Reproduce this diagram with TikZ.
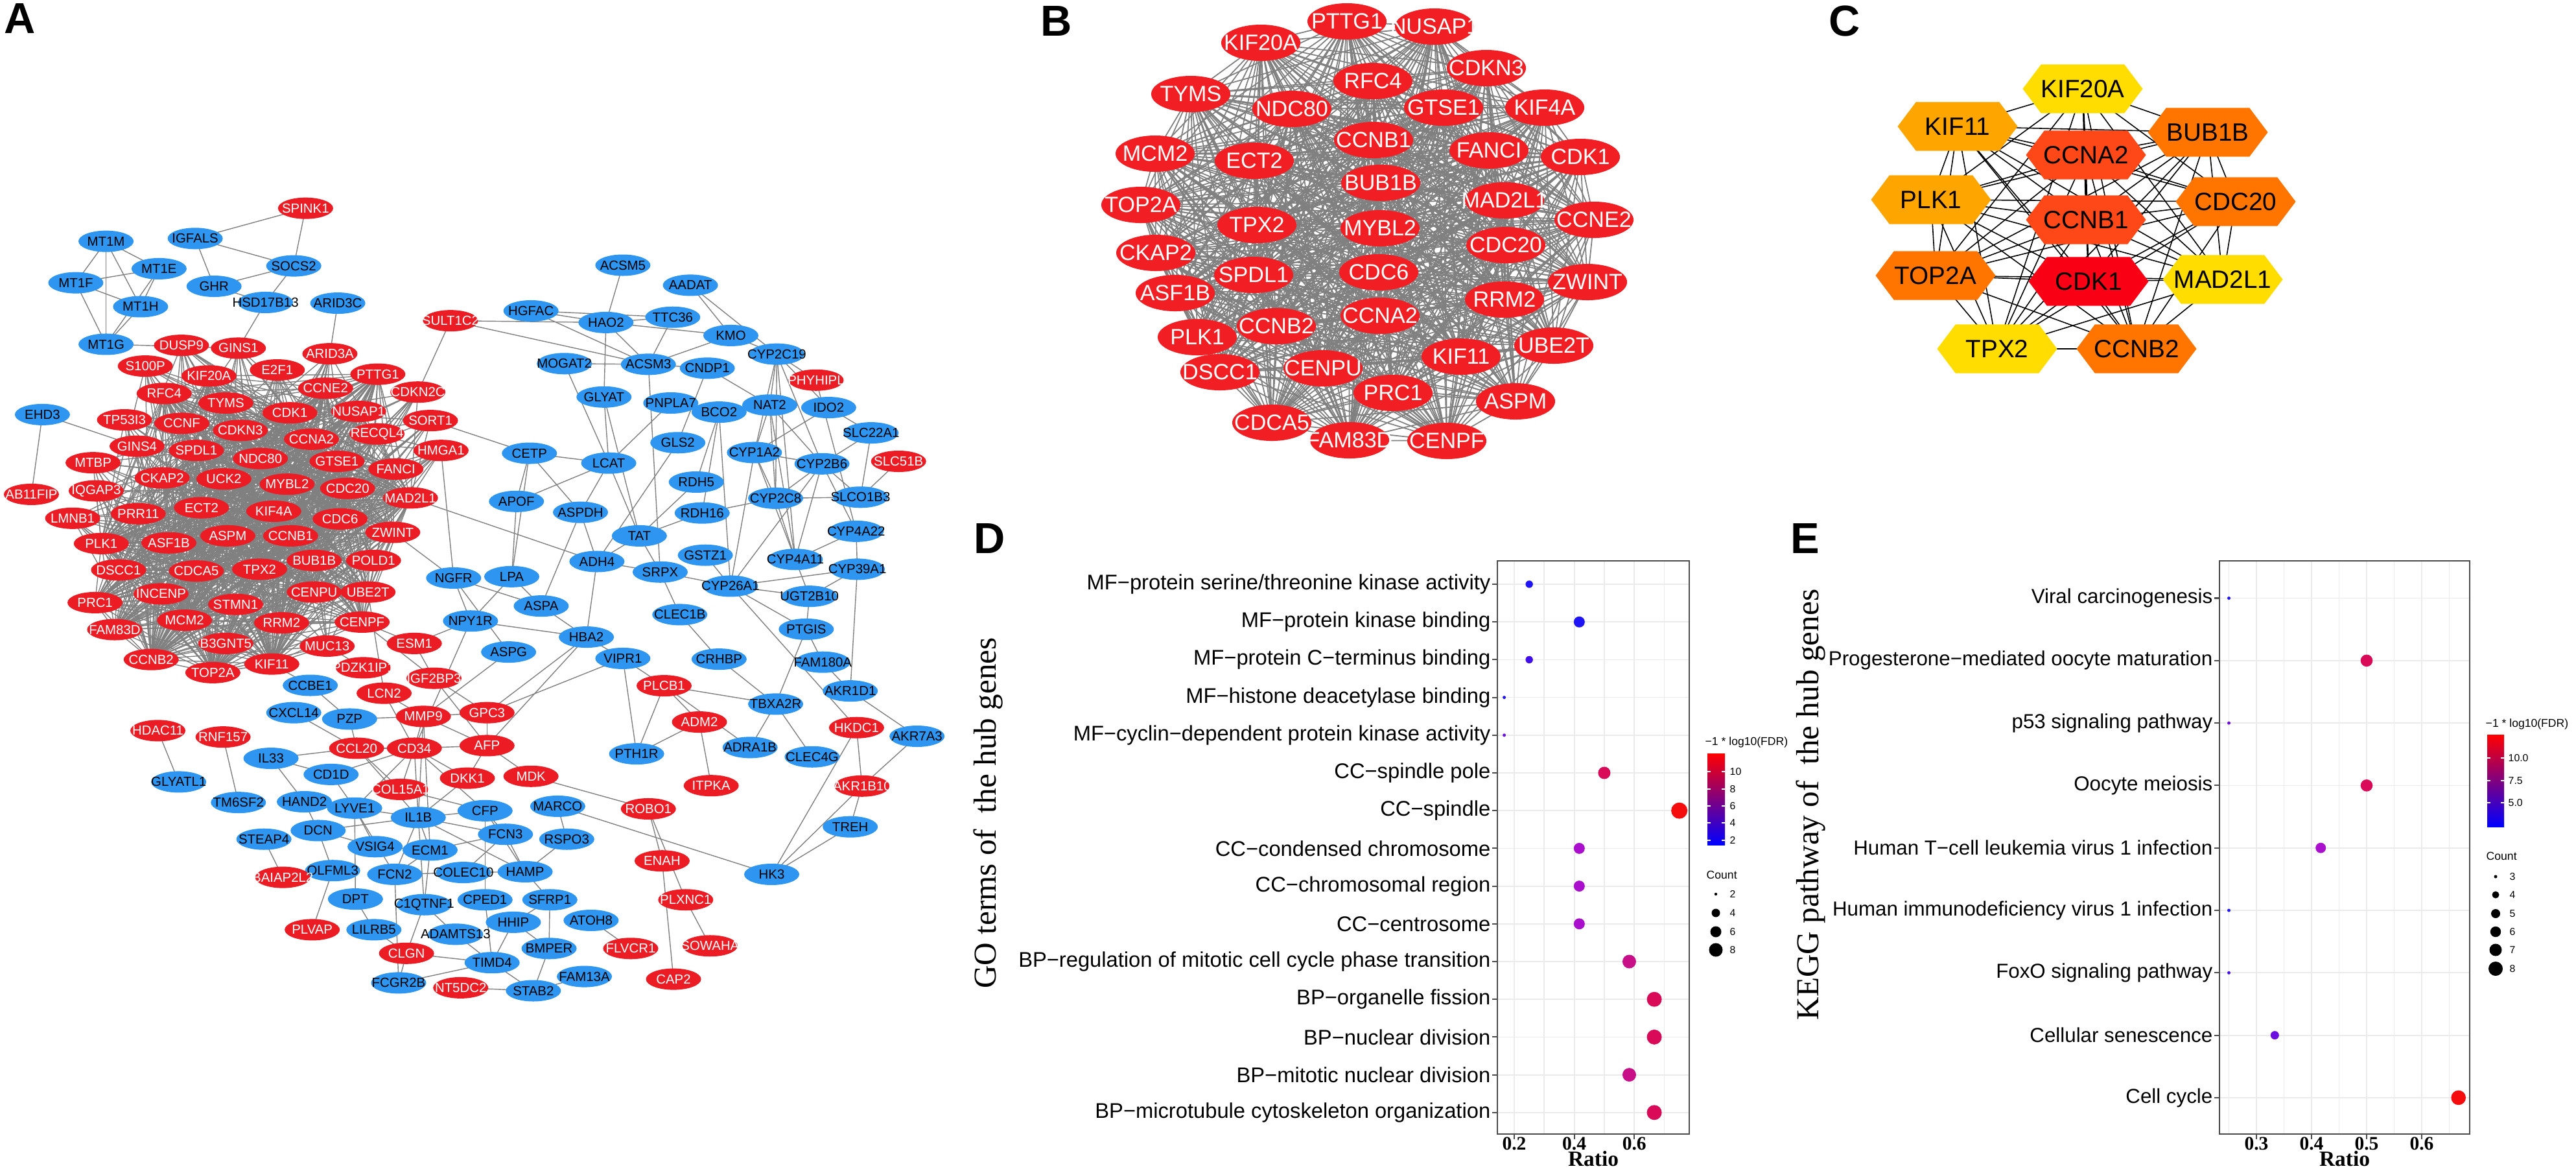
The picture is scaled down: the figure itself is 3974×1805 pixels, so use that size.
\documentclass[tikz,border=0pt]{standalone}
\usepackage{fontspec}
\setmainfont{Liberation Sans}
\newfontfamily\timesfont{Liberation Serif}
\usetikzlibrary{shapes.geometric,shapes.symbols}
\pgfdeclarelayer{edges}
\pgfsetlayers{edges,main}

\definecolor{nodered}{RGB}{236,28,36}
\definecolor{nodeblue}{RGB}{46,150,240}
\definecolor{hubred}{RGB}{241,30,36}
\definecolor{edgegray}{RGB}{128,128,128}
\definecolor{cyel}{RGB}{255,221,0}
\definecolor{corg}{RGB}{255,165,0}
\definecolor{cdor}{RGB}{255,117,0}
\definecolor{crorg}{RGB}{255,72,24}
\definecolor{cred}{RGB}{250,0,20}
\definecolor{gridgray}{RGB}{235,235,235}
\definecolor{fdr1}{RGB}{30,20,245}
\definecolor{fdr2}{RGB}{65,15,235}
\definecolor{fdr3}{RGB}{110,15,225}
\definecolor{fdr4}{RGB}{170,15,205}
\definecolor{fdr5}{RGB}{200,15,135}
\definecolor{fdr6}{RGB}{217,10,88}
\definecolor{fdr7}{RGB}{245,12,12}

\newcommand{\gene}[1]{\makebox[0pt]{#1}}
\def\hublist{KIF20A,PTTG1,NUSAP1,CDKN3,RFC4,NDC80,GTSE1,KIF4A,CCNB1,FANCI,CDK1,ECT2,BUB1B,MAD2L1,CCNE2,TPX2,MYBL2,CDC20,SPDL1,CDC6,ZWINT,RRM2,CCNA2,CCNB2,UBE2T,KIF11,CENPU,PRC1,ASPM,CDCA5,FAM83D,CENPF,TYMS,MCM2,TOP2A,CKAP2,ASF1B,PLK1,DSCC1}
\def\toplist{KIF20A,KIF11,BUB1B,CCNA2,PLK1,CDC20,CCNB1,TOP2A,CDK1,MAD2L1,TPX2,CCNB2}

\tikzset{
  anode/.style={ellipse, minimum width=0.85cm, minimum height=0.33cm, inner sep=0pt, font=\fontsize{5.8}{6}\selectfont},
  ared/.style={anode, fill=nodered, text=white},
  ablue/.style={anode, fill=nodeblue, text=black},
  bnode/.style={ellipse, minimum width=1.22cm, minimum height=0.56cm, inner sep=0pt, fill=hubred, text=white, font=\fontsize{9.7}{10}\selectfont},
  cnode/.style={signal, signal to=west and east, signal pointer angle=106, minimum width=1.85cm, minimum height=0.75cm, inner sep=0pt, font=\fontsize{11}{12}\selectfont},
  aedge/.style={edgegray, line width=0.4pt},
  bedge/.style={edgegray, line width=0.5pt},
  cedge/.style={black, line width=0.45pt},
  panel/.style={inner sep=0pt, font=\fontsize{19}{20}\selectfont\bfseries},
  gridline/.style={gridgray, line width=0.5pt},
  axisline/.style={black!70, line width=0.6pt},
  golab/.style={anchor=east, inner sep=0pt, font=\fontsize{9.3}{10}\selectfont},
  kegglab/.style={anchor=east, inner sep=0pt, font=\fontsize{8.9}{10}\selectfont},
  ticklab/.style={inner sep=0pt, font={\timesfont\bfseries\fontsize{8.4}{9}\selectfont}},
  axtitle/.style={inner sep=0pt, font={\timesfont\bfseries\fontsize{9.5}{10}\selectfont}},
  ytitle/.style={rotate=90, inner sep=0pt, font={\timesfont\fontsize{14}{15}\selectfont}},
  legtitle/.style={anchor=west, inner sep=0pt, font=\fontsize{5}{6}\selectfont},
  leglab/.style={anchor=west, inner sep=0pt, font=\fontsize{4.5}{5}\selectfont},
}

\begin{document}
\begin{tikzpicture}[x=0.01cm, y=-0.01cm]
\useasboundingbox (0,0) rectangle (3974,1805);

% panel letters
\node[panel] (lab-A) at (31,29) {A};
\node[panel] (lab-B) at (1630,33) {B};
\node[panel] (lab-C) at (2846,32) {C};
\node[panel] (lab-D) at (1527,830) {D};
\node[panel] (lab-E) at (2785,830) {E};

%%% A: whole network
% upper left part
\begin{scope}[shift={(0,100)}, xscale=0.6059, yscale=0.5421]
  \foreach \g/\x/\y in {MT1M/270/502, MT1E/405/580, MT1F/193/620, MT1H/358/688, MT1G/270/795,
      IGFALS/497/494, SOCS2/748/572, GHR/545/630, HSD17B13/676/676, ARID3C/860/678,
      EHD3/108/995, HGFAC/1352/700, MOGAT2/1437/850, CETP/1348/1105, APOF/1315/1242,
      ASPDH/1478/1273, NGFR/1155/1460, LPA/1303/1456}
    \node[ablue] (a-\g) at (\x,\y) {\gene{\g}};
  \foreach \g/\x/\y in {SPINK1/778/408, SULT1C2/1147/728, DUSP9/462/798, GINS1/607/806,
      ARID3A/840/822, S100P/370/857, KIF20A/532/885, E2F1/706/868, PTTG1/962/880,
      CCNE2/829/920, CDKN2C/1064/931, RFC4/418/935, TYMS/575/962, CDK1/738/990,
      NUSAP1/913/986, SORT1/1096/1012, TP53I3/317/1010, CCNF/463/1020, CDKN3/612/1040,
      CCNA2/793/1065, RECQL4/960/1050, HMGA1/1123/1097, GINS4/349/1085, SPDL1/500/1097,
      NDC80/663/1120, GTSE1/858/1128, FANCI/1008/1150, MTBP/237/1132, CKAP2/413/1175,
      UCK2/570/1178, MYBL2/731/1193, CDC20/885/1205, MAD2L1/1045/1232, AB11FIP/80/1222,
      IQGAP3/245/1212, LMNB1/185/1290, PRR11/352/1277, ECT2/513/1260, KIF4A/697/1270,
      CDC6/866/1292, ZWINT/1000/1330, PLK1/258/1362, ASF1B/430/1360, ASPM/580/1340,
      CCNB1/740/1340, BUB1B/800/1410, POLD1/951/1410, DSCC1/302/1437, CDCA5/500/1440,
      TPX2/661/1435, CENPU/800/1500, UBE2T/937/1500, INCENP/410/1505, STMN1/600/1535,
      PRC1/242/1530}
    \node[ared] (a-\g) at (\x,\y) {\gene{\g}};
\end{scope}
% upper right part
\begin{scope}[shift={(850,100)}, xscale=0.6059, yscale=0.5421]
  \foreach \g/\x/\y in {ACSM5/183/570, AADAT/355/627, HAO2/140/733, TTC36/310/718, KMO/458/770,
      CYP2C19/575/823, ACSM3/248/852, CNDP1/398/863, GLYAT/135/945, PNPLA7/305/962,
      BCO2/428/988, NAT2/557/968, IDO2/707/975, SLC22A1/815/1047, GLS2/323/1075,
      CYP1A2/518/1103, CYP2B6/690/1135, LCAT/147/1133, RDH5/370/1187, CYP2C8/572/1233,
      SLCO1B3/788/1230, RDH16/385/1275, TAT/225/1340, CYP4A22/777/1327, GSTZ1/393/1395,
      ADH4/117/1413, CYP4A11/622/1407, CYP39A1/780/1435, SRPX/278/1443, CYP26A1/457/1483,
      UGT2B10/658/1512}
    \node[ablue] (a-\g) at (\x,\y) {\gene{\g}};
  \foreach \g/\x/\y in {PHYHIPL/675/897, SLC51B/885/1128}
    \node[ared] (a-\g) at (\x,\y) {\gene{\g}};
\end{scope}
% lower left part
\begin{scope}[shift={(0,900)}, xscale=0.6059, yscale=0.5772]
  \foreach \g/\x/\y in {ASPA/1378/60, NPY1R/1198/100, HBA2/1493/143, ASPG/1295/183,
      CCBE1/790/272, CXCL14/748/345, PZP/890/362, IL33/690/467, CD1D/843/510,
      GLYATL1/455/530, TM6SF2/607/585, HAND2/775/583, LYVE1/903/600, IL1B/1065/625,
      CFP/1235/607, MARCO/1420/595, STEAP4/672/683, DCN/810/660, FCN3/1287/670,
      RSPO3/1443/683, VSIG4/955/703, ECM1/1095/712, OLFML3/847/767, FCN2/1005/777,
      COLEC10/1180/772, HAMP/1337/770, DPT/905/843, C1QTNF1/1080/858, CPED1/1235/845,
      SFRP1/1400/845, HHIP/1307/905, ATOH8/1505/900, LILRB5/952/925, ADAMTS13/1160/937,
      BMPER/1398/975, TIMD4/1253/1013, FCGR2B/1015/1067, STAB2/1358/1088, FAM13A/1488/1050}
    \node[ablue] (a-\g) at (\x,\y) {\gene{\g}};
  \foreach \g/\x/\y in {FAM83D/292/123, MCM2/470/98, RRM2/717/105, CENPF/922/103,
      B3GNT5/575/160, MUC13/833/167, ESM1/1055/160, CCNB2/385/203, TOP2A/542/238,
      KIF11/692/215, PDZK1IP1/925/225, IGF2BP3/1105/253, LCN2/978/293, MMP9/1078/355,
      GPC3/1240/345, HDAC11/402/393, RNF157/568/410, CCL20/908/440, CD34/1055/440,
      AFP/1240/433, DKK1/1190/520, MDK/1352/515, COL15A1/1020/550, BAIAP2L2/720/785,
      PLVAP/795/925, CLGN/1035/988, NT5DC2/1173/1080}
    \node[ared] (a-\g) at (\x,\y) {\gene{\g}};
\end{scope}
% lower right part
\begin{scope}[shift={(850,900)}, xscale=0.6059, yscale=0.5772]
  \foreach \g/\x/\y in {CLEC1B/328/83, VIPR1/183/200, CRHBP/428/202, PTGIS/650/122,
      FAM180A/692/210, AKR1D1/762/287, TBXA2R/572/322, ADRA1B/507/438, CLEC4G/665/463,
      PTH1R/218/455, AKR7A3/932/408, TREH/762/650, HK3/562/777}
    \node[ablue] (a-\g) at (\x,\y) {\gene{\g}};
  \foreach \g/\x/\y in {PLCB1/288/273, ADM2/378/370, HKDC1/778/385, ITPKA/408/540,
      AKR1B10/792/541, ROBO1/248/602, ENAH/283/741, PLXNC1/343/845, SOWAHA/405/968,
      FLVCR1/203/975, CAP2/312/1057}
    \node[ared] (a-\g) at (\x,\y) {\gene{\g}};
\end{scope}

%%% B: hub module
\foreach \g/\x/\y in {KIF20A/1945/66, PTTG1/2078/33, NUSAP1/2213/41, CDKN3/2293/105,
    RFC4/2118/125, NDC80/1993/168, GTSE1/2227/166, KIF4A/2383/166, CCNB1/2119/216,
    FANCI/2297/232, CDK1/2438/242, ECT2/1935/248, BUB1B/2130/282, MAD2L1/2321/309,
    CCNE2/2459/339, TPX2/1939/347, MYBL2/2129/352, CDC20/2323/378, SPDL1/1934/424,
    CDC6/2127/420, ZWINT/2449/435, RRM2/2321/462, CCNA2/2129/487, CCNB2/1969/503,
    UBE2T/2397/533, KIF11/2254/550, CENPU/2041/568, PRC1/2149/606, ASPM/2338/619,
    CDCA5/1962/652, FAM83D/2082/679, CENPF/2232/680, TYMS/1837/145, MCM2/1782/237,
    TOP2A/1760/316, CKAP2/1783/390, ASF1B/1813/452, PLK1/1847/520, DSCC1/1882/574}
  \node[bnode] (b-\g) at (\x,\y) {\gene{\g}};

%%% C: top 12 hub genes
\foreach \g/\x/\y/\c in {KIF20A/3213/137/cyel, KIF11/3020/195/corg, BUB1B/3406/204/cdor,
    CCNA2/3218/239/crorg, PLK1/2979/308/corg, CDC20/3449/311/cdor, CCNB1/3218/339/crorg,
    TOP2A/2986/425/cdor, CDK1/3222/434/cred, MAD2L1/3429/431/cyel, TPX2/3081/538/cyel,
    CCNB2/3296/538/cdor}
  \node[cnode, fill=\c] (c-\g) at (\x,\y) {\gene{\g}};

\begin{pgfonlayer}{edges}
  % A: dense hub cluster
  \foreach \u [count=\i] in \hublist {
    \foreach \v [count=\j] in \hublist {
      \ifnum\j>\i \draw[aedge] (a-\u.center) -- (a-\v.center); \fi
    }
  }
  \foreach \u in {DUSP9,GINS1,ARID3A,S100P,E2F1,CDKN2C,SORT1,TP53I3,CCNF,RECQL4,HMGA1,
      GINS4,MTBP,UCK2,IQGAP3,LMNB1,PRR11,POLD1,INCENP,STMN1,B3GNT5,MUC13}
    \foreach \v in {CDK1,CCNA2,CCNB1,BUB1B,TOP2A,MAD2L1,CDC20,KIF11,PLK1,TPX2,CCNB2,MCM2}
      \draw[aedge] (a-\u.center) -- (a-\v.center);
  % A: other links
  \foreach \u/\v in {SPINK1/IGFALS, SPINK1/SOCS2, IGFALS/SOCS2, IGFALS/GHR, GHR/SOCS2,
      SOCS2/HSD17B13, GHR/HSD17B13, HSD17B13/GINS1, ARID3C/ARID3A,
      MT1M/MT1F, MT1M/MT1E, MT1M/MT1H, MT1M/MT1G, MT1F/MT1E, MT1F/MT1H, MT1F/MT1G,
      MT1E/MT1H, MT1E/MT1G, MT1H/MT1G, MT1G/GINS1, EHD3/AB11FIP, EHD3/GINS4,
      SULT1C2/CDKN2C, SULT1C2/HAO2, SULT1C2/ACSM3, HGFAC/HAO2, HGFAC/TTC36, HGFAC/ACSM3,
      MOGAT2/ACSM3, MOGAT2/LCAT, SORT1/CETP, CETP/LCAT, CETP/APOF, CETP/LPA, CETP/ASPDH,
      APOF/LCAT, APOF/LPA, LCAT/ASPDH, LCAT/GLYAT, LCAT/TAT, HMGA1/NGFR, ZWINT/NGFR,
      MAD2L1/ADH4, NGFR/NPY1R, NGFR/ASPG, NGFR/ASPA, LPA/ASPA, LPA/NPY1R, ASPDH/ADH4,
      ASPA/HBA2, NPY1R/HBA2, ASPDH/ASPA,
      ACSM5/HAO2, AADAT/KMO, AADAT/CYP2C19, HAO2/TTC36, HAO2/KMO, HAO2/ACSM3, HAO2/GLYAT,
      TTC36/ACSM3, KMO/ACSM3, KMO/CYP2C19, ACSM3/CNDP1, ACSM3/SRPX, CNDP1/NAT2, CNDP1/GLS2,
      CYP2C19/PHYHIPL, CYP2C19/NAT2, CYP2C19/CYP1A2, CYP2C19/CYP2B6, CYP2C19/CYP2C8,
      CYP2C19/CYP4A11, CYP2C19/IDO2, PHYHIPL/CYP4A22, IDO2/SLC22A1, IDO2/CYP1A2,
      SLC22A1/CYP2B6, SLC22A1/SLCO1B3, SLC51B/SLCO1B3, NAT2/CYP1A2, NAT2/CYP2B6,
      NAT2/CYP2C8, NAT2/CYP4A11, BCO2/RDH5, BCO2/RDH16, BCO2/CYP26A1, PNPLA7/LCAT,
      GLS2/ADH4, CYP1A2/CYP2B6, CYP1A2/CYP2C8, CYP1A2/CYP4A11, CYP1A2/CYP26A1,
      CYP2B6/CYP2C8, CYP2B6/SLCO1B3, CYP2B6/CYP4A22, CYP2B6/CYP4A11, CYP2B6/CYP26A1,
      CYP2C8/SLCO1B3, CYP2C8/CYP4A11, CYP2C8/RDH16, CYP4A22/CYP4A11, CYP4A22/CYP39A1,
      CYP39A1/UGT2B10, CYP4A11/UGT2B10, CYP39A1/CYP26A1, CYP26A1/UGT2B10, CYP26A1/SRPX,
      CYP26A1/GSTZ1, SRPX/ADH4, SRPX/TAT, SRPX/CLEC1B, TAT/ADH4, TAT/RDH16, RDH5/TAT,
      GLYAT/TAT, ADH4/HBA2,
      CLEC1B/CRHBP, CRHBP/TBXA2R, CYP26A1/PTGIS, UGT2B10/PTGIS, PTGIS/FAM180A,
      PTGIS/TBXA2R, FAM180A/AKR1D1, CYP39A1/AKR1D1, AKR1D1/AKR7A3, CYP26A1/HKDC1,
      TBXA2R/PLCB1, TBXA2R/ADRA1B, TBXA2R/CLEC4G, VIPR1/PLCB1, VIPR1/PTH1R, HBA2/VIPR1,
      PLCB1/ADM2, PLCB1/PTH1R, PLCB1/ADRA1B, ADM2/PTH1R, ADM2/ITPKA, HKDC1/AKR1B10,
      HKDC1/HK3, AKR7A3/AKR1B10, AKR1B10/TREH, AKR1B10/HK3, TREH/HK3, ROBO1/ENAH,
      ROBO1/PLXNC1, ENAH/CAP2, PLXNC1/SOWAHA, MDK/ROBO1, MARCO/HK3, ATOH8/FLVCR1,
      KIF11/CCBE1, CENPF/ESM1, CENPF/IGF2BP3, UBE2T/LCN2, MUC13/PDZK1IP1, ESM1/NPY1R,
      ESM1/IGF2BP3, CCL20/CD34, CD34/MMP9, CD34/AFP, MMP9/GPC3, MMP9/AFP, LCN2/MMP9,
      LCN2/CD34, IGF2BP3/AFP, IGF2BP3/GPC3, GPC3/AFP, AFP/DKK1, AFP/MDK, CD34/COL15A1,
      CD34/IL1B, CD34/LYVE1, CD34/DKK1, CCL20/IL1B, CCL20/CXCL14, PZP/CCL20, IL33/CCL20,
      IL33/CD1D, IL33/HAND2, CD1D/LYVE1, CD1D/CD34, PZP/MMP9, CCBE1/PZP, HDAC11/GLYATL1,
      RNF157/TM6SF2, STEAP4/BAIAP2L2, OLFML3/PLVAP, OLFML3/DCN, DCN/IL1B, LYVE1/VSIG4,
      LYVE1/IL1B, LYVE1/DPT, IL1B/CFP, IL1B/ECM1, IL1B/FCN3, CFP/FCN3, CFP/HAMP,
      FCN3/HAMP, FCN3/ECM1, FCN3/COLEC10, ECM1/VSIG4, ECM1/FCN2, FCN2/COLEC10,
      VSIG4/DCN, COLEC10/HAMP, HAMP/SFRP1, HAMP/RSPO3, RSPO3/MARCO, SFRP1/BMPER,
      SFRP1/HHIP, HHIP/BMPER, C1QTNF1/ADAMTS13, DPT/LILRB5, CLGN/FCGR2B, CLGN/TIMD4,
      TIMD4/STAB2, FCGR2B/TIMD4, NT5DC2/STAB2, STAB2/FAM13A, BMPER/STAB2,
      ADAMTS13/TIMD4, GPC3/HBA2, AFP/HBA2, GPC3/VIPR1, ASPG/MMP9, NPY1R/CD34,
      IL1B/C1QTNF1, CFP/CPED1, MMP9/IL1B, CD34/CFP, COL15A1/CFP, DKK1/IL1B, IL1B/HAMP,
      CCL20/COL15A1, ECM1/C1QTNF1, C1QTNF1/CLGN, LILRB5/CLGN, FCN2/FCGR2B, CPED1/TIMD4,
      HHIP/TIMD4, IL1B/FCN2, MMP9/ECM1, HAND2/DCN, LYVE1/FCN2}
    \draw[aedge] (a-\u.center) -- (a-\v.center);
  % B: all pairs
  \foreach \u [count=\i] in \hublist {
    \foreach \v [count=\j] in \hublist {
      \ifnum\j>\i \draw[bedge] (b-\u.center) -- (b-\v.center); \fi
    }
  }
  % C: all pairs
  \foreach \u [count=\i] in \toplist {
    \foreach \v [count=\j] in \toplist {
      \ifnum\j>\i \draw[cedge] (c-\u.center) -- (c-\v.center); \fi
    }
  }
\end{pgfonlayer}

%%% D: GO terms
\node[ytitle] (d-title) at (1524,1254) {GO terms of~ the hub genes};
\foreach \r in {0.2,0.3,0.4,0.5,0.6,0.7}
  \draw[gridline] ({2336+(\r-0.2)*463},865) -- ({2336+(\r-0.2)*463},1749);
\foreach \i in {1,...,15}
  \draw[gridline] (2310,{901+(\i-1)*58.2}) -- (2606,{901+(\i-1)*58.2});
\draw[axisline] (2310,865) rectangle (2606,1749);
\foreach \lab/\r/\s/\c [count=\i] in {
    MF−protein serine\slash threonine kinase activity/0.25/5.7/fdr1,
    MF−protein kinase binding/0.4167/8.5/fdr1,
    MF−protein C−terminus binding/0.25/5.7/fdr2,
    MF−histone deacetylase binding/0.1667/2.5/fdr1,
    MF−cyclin−dependent protein kinase activity/0.1667/2.5/fdr3,
    CC−spindle pole/0.5/9.5/fdr6,
    CC−spindle/0.75/12.5/fdr7,
    CC−condensed chromosome/0.4167/8.5/fdr4,
    CC−chromosomal region/0.4167/8.5/fdr4,
    CC−centrosome/0.4167/8.5/fdr4,
    BP−regulation of mitotic cell cycle phase transition/0.5833/10.5/fdr5,
    BP−organelle fission/0.6667/11.5/fdr6,
    BP−nuclear division/0.6667/11.5/fdr6,
    BP−mitotic nuclear division/0.5833/10.5/fdr5,
    BP−microtubule cytoskeleton organization/0.6667/11.5/fdr6} {
  \pgfmathsetmacro\yy{901+(\i-1)*58.2}
  \node[golab] (d-lab\i) at (2300,\yy) {\lab};
  \draw[axisline] (2302,\yy) -- (2310,\yy);
  \fill[\c] ({2336+(\r-0.2)*463},\yy) circle[radius=\s];
}
\foreach \r [count=\k] in {0.2,0.4,0.6} {
  \draw[axisline] ({2336+(\r-0.2)*463},1749) -- ({2336+(\r-0.2)*463},1757);
  \node[ticklab] (d-tick\k) at ({2336+(\r-0.2)*463},1764) {\r};
}
\node[axtitle] (d-ratio) at (2458,1787) {Ratio};
% legend
\node[legtitle] (d-fdr) at (2630,1145) {−1 * log10(FDR)};
\shade[top color=red, middle color={rgb,255:red,170;green,0;blue,200}, bottom color=blue]
  (2634,1162) rectangle (2661,1303);
\foreach \v/\yy [count=\k] in {10/1190, 8/1217, 6/1243, 4/1269, 2/1296} {
  \draw[white, line width=0.4pt] (2634,\yy) -- (2639,\yy) (2656,\yy) -- (2661,\yy);
  \node[leglab] (d-fdr\k) at (2668,\yy) {\v};
}
\node[legtitle] (d-count) at (2632,1349) {Count};
\foreach \v/\s/\yy [count=\k] in {2/2.2/1379, 4/6.5/1408, 6/8.5/1437, 8/10.5/1465} {
  \fill (2647,\yy) circle[radius=\s];
  \node[leglab] (d-cnt\k) at (2668,\yy) {\v};
}

%%% E: KEGG pathways
\node[ytitle] (e-title) at (2793,1241) {KEGG pathway of~ the hub genes};
\foreach \r in {0.25,0.3,0.35,0.4,0.45,0.5,0.55,0.6,0.65}
  \draw[gridline] ({3481+(\r-0.3)*850},865) -- ({3481+(\r-0.3)*850},1749);
\foreach \i in {1,...,9}
  \draw[gridline] (3424,{922.5+(\i-1)*96.3}) -- (3810,{922.5+(\i-1)*96.3});
\draw[axisline] (3424,865) rectangle (3810,1749);
\foreach \lab/\r/\s/\c [count=\i] in {
    Viral carcinogenesis/0.25/2.5/fdr1,
    Progesterone−mediated oocyte maturation/0.5/9.3/fdr6,
    p53 signaling pathway/0.25/2.5/fdr3,
    Oocyte meiosis/0.5/9.3/fdr6,
    Human T−cell leukemia virus 1 infection/0.4167/8/fdr4,
    Human immunodeficiency virus 1 infection/0.25/2.5/fdr1,
    FoxO signaling pathway/0.25/2.5/fdr2,
    Cellular senescence/0.3333/6.5/fdr3,
    Cell cycle/0.6667/11.3/fdr7} {
  \pgfmathsetmacro\yy{922.5+(\i-1)*96.3}
  \node[kegglab] (e-lab\i) at (3414,\yy) {\lab};
  \draw[axisline] (3416,\yy) -- (3424,\yy);
  \fill[\c] ({3481+(\r-0.3)*850},\yy) circle[radius=\s];
}
\foreach \r [count=\k] in {0.3,0.4,0.5,0.6} {
  \draw[axisline] ({3481+(\r-0.3)*850},1749) -- ({3481+(\r-0.3)*850},1757);
  \node[ticklab] (e-tick\k) at ({3481+(\r-0.3)*850},1764) {\r};
}
\node[axtitle] (e-ratio) at (3617,1787) {Ratio};
% legend
\node[legtitle] (e-fdr) at (3834,1117) {−1 * log10(FDR)};
\shade[top color=red, middle color={rgb,255:red,170;green,0;blue,200}, bottom color=blue]
  (3837,1133) rectangle (3863,1275);
\foreach \v/\yy [count=\k] in {10.0/1169, 7.5/1204, 5.0/1238} {
  \draw[white, line width=0.4pt] (3837,\yy) -- (3842,\yy) (3858,\yy) -- (3863,\yy);
  \node[leglab] (e-fdr\k) at (3869,\yy) {\v};
}
\node[legtitle] (e-count) at (3835,1320) {Count};
\foreach \v/\s/\yy [count=\k] in {3/2.5/1352, 4/5.5/1380, 5/7/1409, 6/8.2/1437, 7/9.5/1465, 8/11/1494} {
  \fill (3850,\yy) circle[radius=\s];
  \node[leglab] (e-cnt\k) at (3871,\yy) {\v};
}
\end{tikzpicture}
\end{document}
